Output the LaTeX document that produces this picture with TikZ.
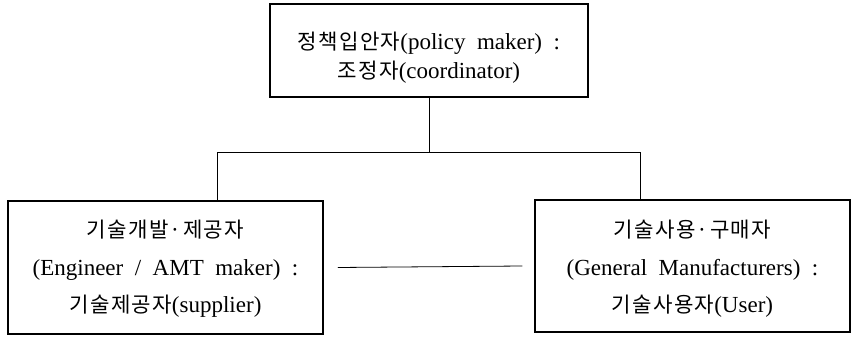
\documentclass[tikz,border=0pt]{standalone}
\usepackage{fontspec}
\setmainfont{Liberation Serif}
\newfontfamily\kr[Scale=0.92,LetterSpace=6]{Noto Sans CJK KR}
\begin{document}
\begin{tikzpicture}[x=1pt,y=-1pt,
  frame/.style={draw, line width=1.5pt, inner sep=0pt},
  caption/.style={align=center, inner sep=0pt},
  link/.style={line width=0.8pt}]
\useasboundingbox (0,0) rectangle (852,337);
% the three role boxes
\node[frame, minimum width=318pt, minimum height=93pt] (top) at (429,50.5) {};
\node[frame, minimum width=315pt, minimum height=133pt] (sup) at (165.5,267.5) {};
\node[frame, minimum width=315pt, minimum height=132pt] (usr) at (692.5,266) {};
% their texts
\node[caption, font=\fontsize{23}{29}\selectfont] (toptext) at (429,58)
  {{\kr 정책입안자}(policy\ \ maker)\ \ :\\{\kr 조정자}(coordinator)};
\node[caption, font=\fontsize{23}{37.5}\selectfont] (suptext) at (165.5,269)
  {{\kr 기술개발·제공자}\\(Engineer\ \ /\ \ AMT\ \ maker)\ \ :\\{\kr 기술제공자}(supplier)};
\node[caption, font=\fontsize{23}{37.5}\selectfont] (usrtext) at (692.5,269)
  {{\kr 기술사용·구매자}\\(General\ \ Manufacturers)\ \ :\\{\kr 기술사용자}(User)};
% tree connectors
\coordinate (j) at (429,152);
\draw[link] (top.south) -- (j);
\draw[link] (j) -| ([xshift=51.5pt]sup.north);
\draw[link] (j) -| ([xshift=-52.5pt]usr.north);
\draw[link] ([xshift=14pt]sup.east) -- ([xshift=-12pt]usr.west);
\end{tikzpicture}
\end{document}
